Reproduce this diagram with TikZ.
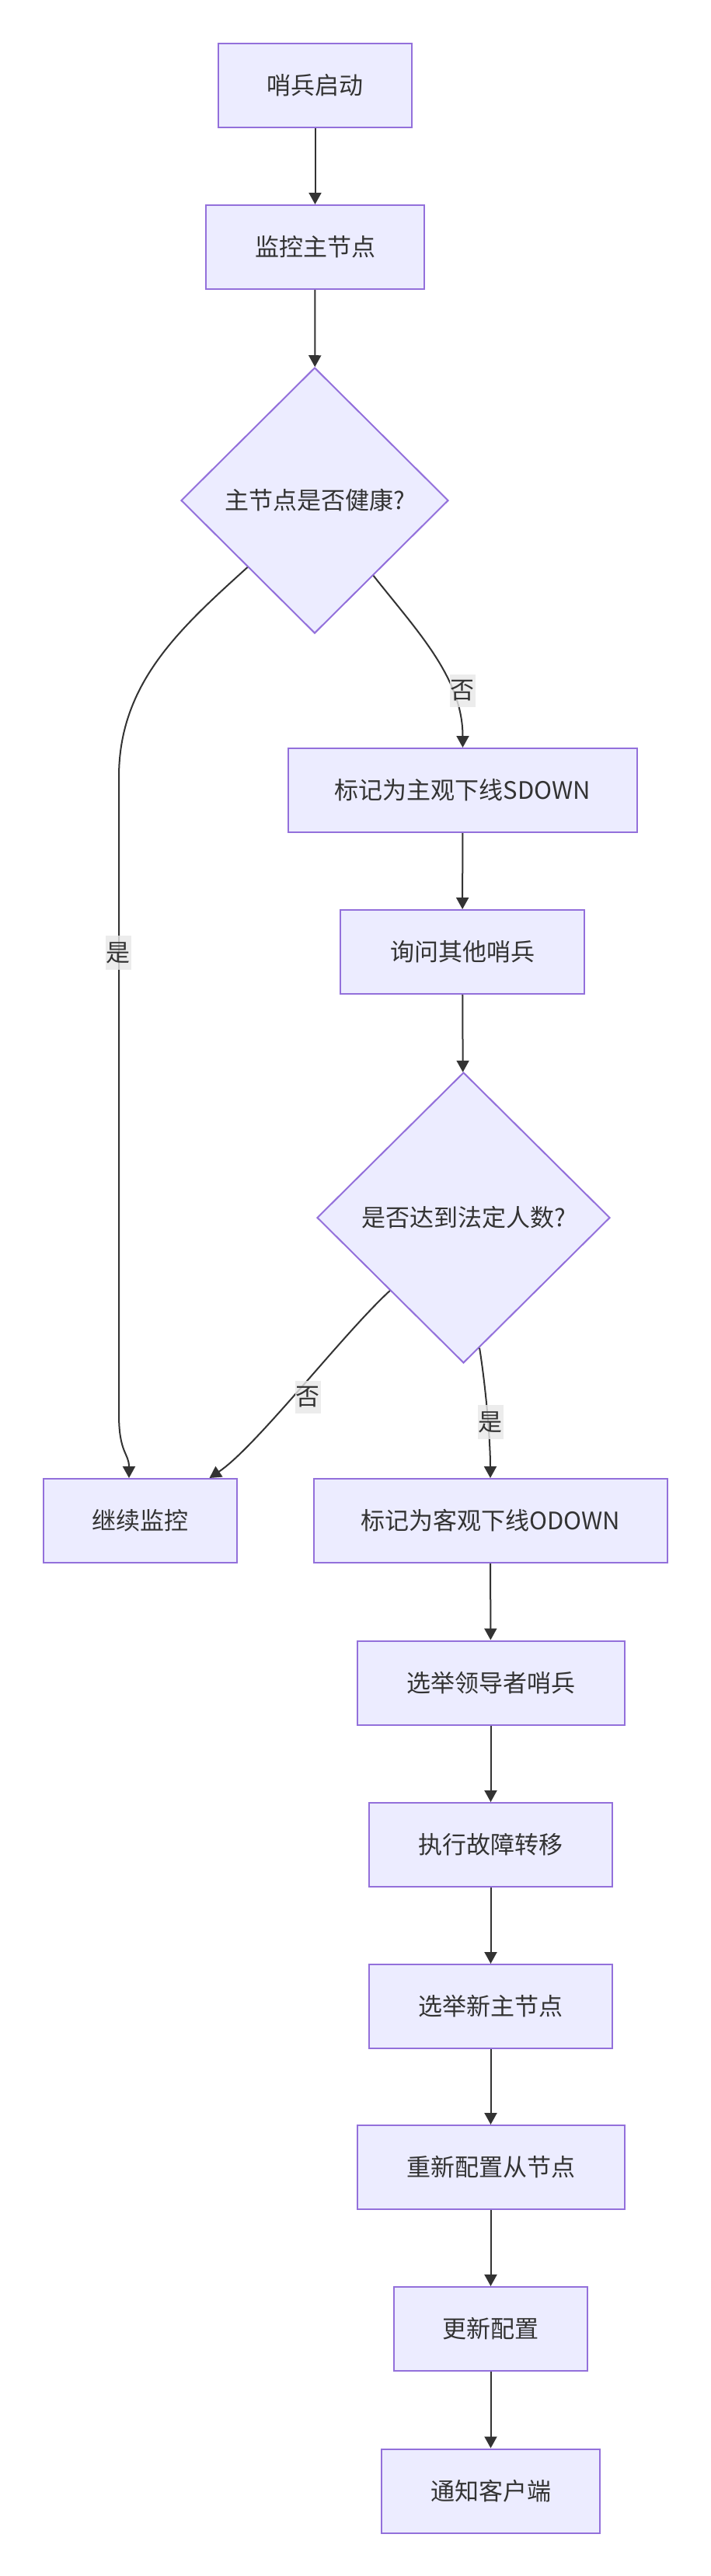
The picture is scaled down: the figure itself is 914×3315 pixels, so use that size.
\documentclass[tikz,border=0pt]{standalone}
\usepackage{fontspec}
\newfontfamily\cjk{Noto Sans CJK SC}
\usepackage{xcolor}
\usetikzlibrary{shapes.geometric, arrows.meta, calc}
\definecolor{nodefill}{HTML}{ECECFF}
\definecolor{nodeline}{HTML}{9370DB}
\definecolor{linkcol}{HTML}{333333}
\definecolor{lblfill}{HTML}{E8E8E8}
\tikzset{
    proc/.style={rectangle, draw=nodeline, fill=nodefill, line width=2pt, minimum height=108pt, inner sep=0pt, text=linkcol, font=\cjk\fontsize{31}{37}\selectfont},
    dec/.style={diamond, draw=nodeline, fill=nodefill, line width=2pt, inner sep=0pt, text=linkcol, font=\cjk\fontsize{31}{37}\selectfont},
    flow/.style={draw=linkcol, line width=2pt, -{Triangle[length=15pt,width=16pt]}},
    elabel/.style={fill=lblfill, fill opacity=0.8, text opacity=1, text=linkcol, inner xsep=1pt, inner ysep=8pt, font=\cjk\fontsize{31}{37}\selectfont},
}

\begin{document}
\begin{tikzpicture}[x=1pt, y=1pt]
            \path[use as bounding box, fill=white](0,0) rectangle (914,-3315);
            % main line
            \node[proc, minimum width=249pt] (start) at (405.5,-109.5) {哨兵启动};
            \node[proc, minimum width=281pt] (mon) at (405.5,-318) {监控主节点};
            \node[dec, minimum width=344pt, minimum height=342pt] (chk) at (405,-644) {主节点是否健康?};
            \node[proc, minimum width=449pt] (sdown) at (595.5,-1017) {标记为主观下线SDOWN};
            \node[proc, minimum width=314pt] (ask) at (595,-1225) {询问其他哨兵};
            \node[dec, minimum width=377pt, minimum height=374pt] (quorum) at (596.5,-1567) {是否达到法定人数?};
            \node[proc, minimum width=249pt] (cont) at (180,-1957) {继续监控};
            \node[proc, minimum width=455pt] (odown) at (631,-1957) {标记为客观下线ODOWN};
            % failover
            \node[proc, minimum width=344pt] (elect) at (631.5,-2165.5) {选举领导者哨兵};
            \node[proc, minimum width=313pt] (fail) at (631.5,-2374) {执行故障转移};
            \node[proc, minimum width=313pt] (newm) at (631.5,-2582) {选举新主节点};
            \node[proc, minimum width=344pt] (recfg) at (631.5,-2789) {重新配置从节点};
            \node[proc, minimum width=249pt] (upd) at (631.5,-2997) {更新配置};
            \node[proc, minimum width=281pt] (notify) at (631.5,-3205.5) {通知客户端};

            \coordinate (yesA) at (153,-1000);
            \coordinate (yesB) at (153,-1820);

            \draw[flow](start)--(mon);
            \draw[flow](mon)--(chk);
            \draw[flow](chk.south west) .. controls (230,-810) and (153,-880) .. (yesA)--(yesB) .. controls (153,-1870) and (166,-1870) .. ([xshift=-14pt]cont.north);
            \draw[flow](chk.-52) .. controls +(55,-70) and +(0,90) .. (sdown.north);
            \draw[flow](sdown)--(ask);
            \draw[flow](ask)--(quorum);
            \draw[flow](quorum.south west) .. controls +(-60,-55) and +(60,40) .. ([xshift=-36pt]cont.north east);
            \draw[flow](quorum.-83) .. controls +(8,-50) and +(0,50) .. (odown.north);
            \foreach \a/\b in {odown/elect, elect/fail, fail/newm, newm/recfg, recfg/upd, upd/notify}
                \draw[flow](\a)--(\b);

            \node[elabel] (yes1) at (152,-1226) {是};
            \node[elabel] (no1) at (595,-889) {否};
            \node[elabel] (no2) at (396,-1798) {否};
            \node[elabel] (yes2) at (631,-1830) {是};
        \end{tikzpicture}
\end{document}
